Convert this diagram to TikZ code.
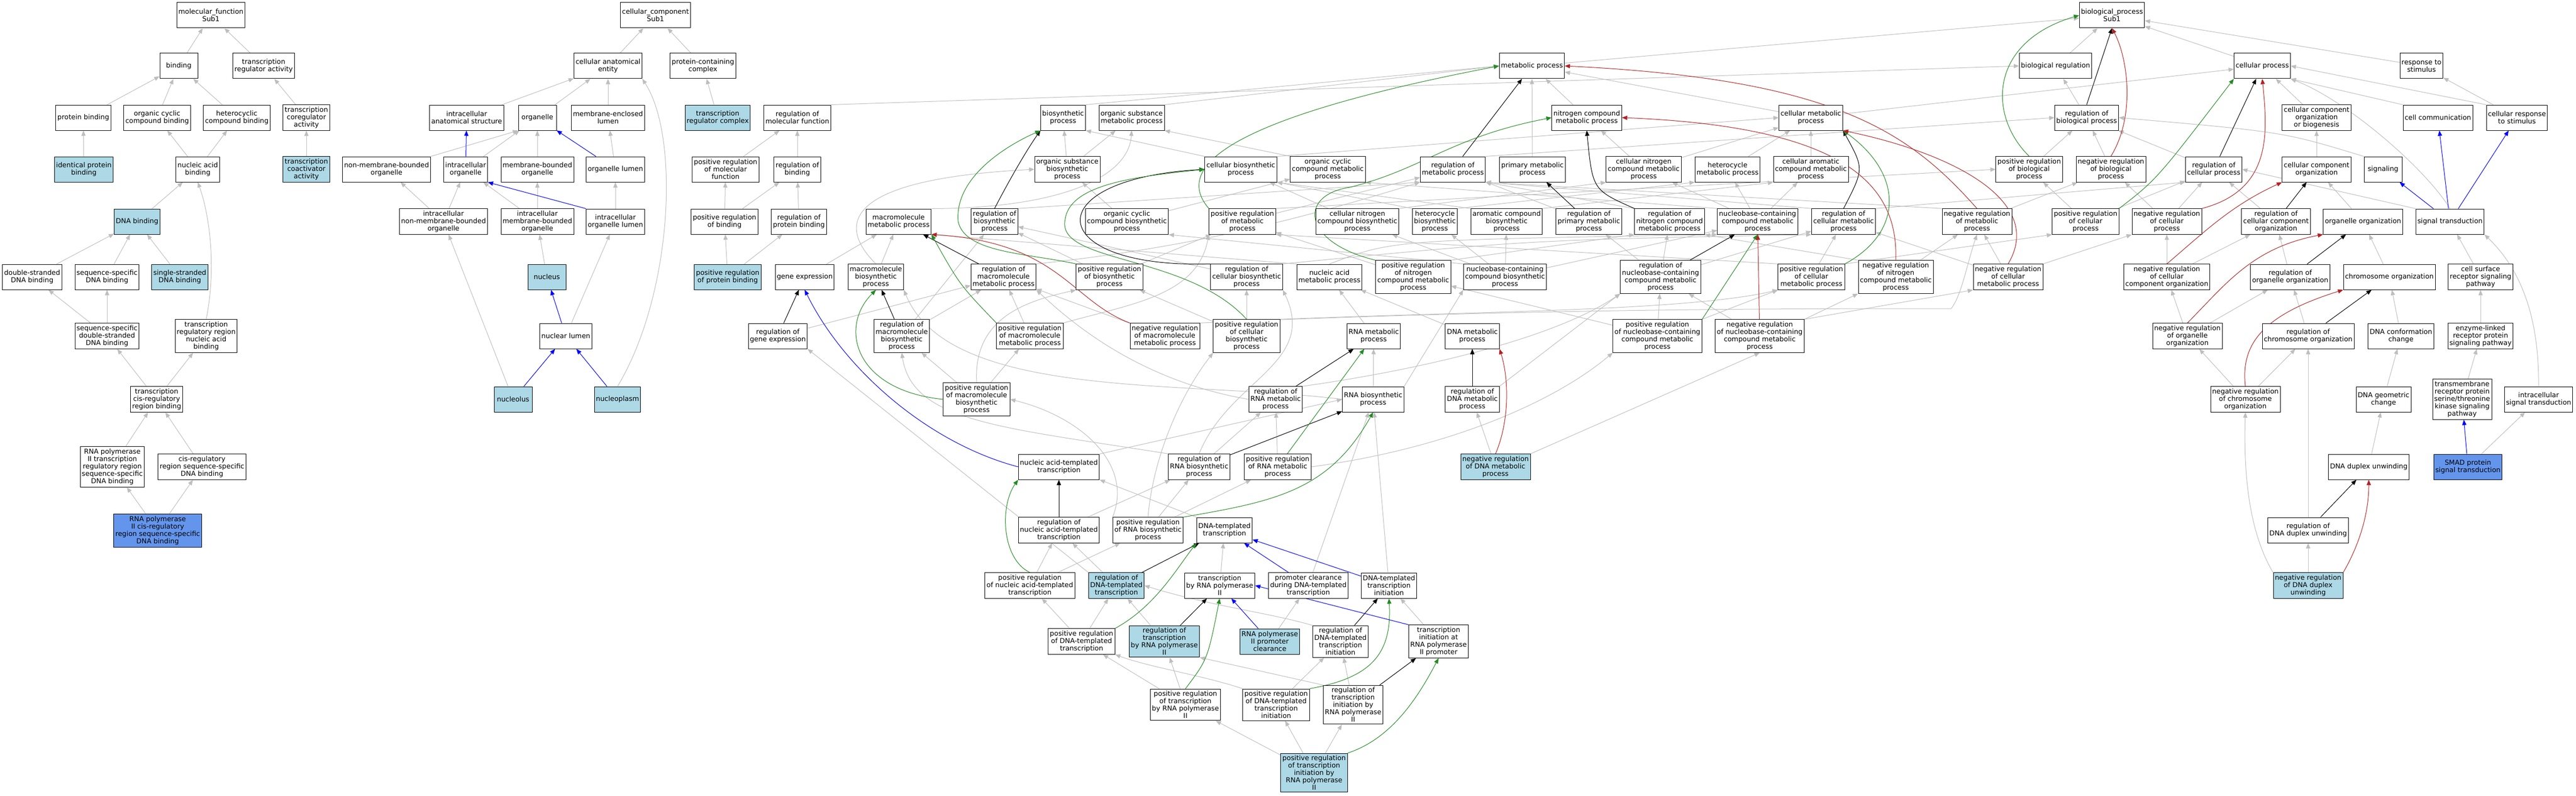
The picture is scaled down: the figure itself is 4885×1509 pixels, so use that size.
\documentclass[tikz,border=0pt]{standalone}
\usepackage{fontspec}
\setmainfont{DejaVu Sans}
\usetikzlibrary{arrows.meta,backgrounds}
\definecolor{isagray}{RGB}{190,190,190}
\definecolor{posgreen}{RGB}{34,139,34}
\definecolor{negred}{RGB}{178,34,34}
\definecolor{termblue}{RGB}{173,216,230}
\definecolor{seedblue}{RGB}{100,149,237}
\begin{document}
\begin{tikzpicture}[x=1pt,y=-1pt,
  term/.style={draw=black, line width=1pt, fill=white, rectangle, minimum width=72pt, minimum height=48pt, inner xsep=3pt, inner ysep=4pt, align=center, font=\fontsize{12.9pt}{14pt}\selectfont},
  lbterm/.style={term, fill=termblue},
  cfterm/.style={term, fill=seedblue},
  isa/.style={color=isagray, line width=1pt, -{Triangle[length=10pt,width=8pt]}},
  regarrow/.style={isa, color=black},
  posreg/.style={isa, color=posgreen},
  negreg/.style={isa, color=negred},
  partof/.style={isa, color=blue}]
\useasboundingbox (0,0) rectangle (4885,1509);

%molecular function
\node[term] (mf) at (400,29) {molecular\_function\\Sub1};
\node[term] (bind) at (339,125) {binding};
\node[term] (trra) at (500,125) {transcription\\regulator activity};
\node[term] (pbind) at (158,223) {protein binding};
\node[term] (occb) at (298,223) {organic cyclic\\compound binding};
\node[term] (hccb) at (449,223) {heterocyclic\\compound binding};
\node[term] (trcoreg) at (581,223) {transcription\\coregulator\\activity};
\node[lbterm] (ipb) at (159,321) {identical protein\\binding};
\node[term] (nab) at (375,321) {nucleic acid\\binding};
\node[lbterm] (trcoact) at (581,321) {transcription\\coactivator\\activity};
\node[lbterm] (dnab) at (260,420) {DNA binding};
\node[term] (dsdna) at (61,525) {double-stranded\\DNA binding};
\node[term] (ssdna) at (203,525) {sequence-specific\\DNA binding};
\node[lbterm] (sgdna) at (341,525) {single-stranded\\DNA binding};
\node[term] (ssds) at (203,637) {sequence-specific\\double-stranded\\DNA binding};
\node[term] (trrnab) at (391,637) {transcription\\regulatory region\\nucleic acid\\binding};
\node[term] (tcrb) at (297,757) {transcription\\cis-regulatory\\region binding};
\node[term] (rp2tr) at (213,885) {RNA polymerase\\II transcription\\regulatory region\\sequence-specific\\DNA binding};
\node[term] (crss) at (383,885) {cis-regulatory\\region sequence-specific\\DNA binding};
\node[cfterm] (rp2cr) at (299,1006) {RNA polymerase\\II cis-regulatory\\region sequence-specific\\DNA binding};

%cellular component
\node[term] (cc) at (1243,29) {cellular\_component\\Sub1};
\node[term] (cae) at (1153,125) {cellular anatomical\\entity};
\node[term] (pcc) at (1333,125) {protein-containing\\complex};
\node[term] (ias) at (885,223) {intracellular\\anatomical structure};
\node[term] (org) at (1019,223) {organelle};
\node[term] (mel) at (1153,223) {membrane-enclosed\\lumen};
\node[lbterm] (trc) at (1361,223) {transcription\\regulator complex};
\node[term] (nmbo) at (733,321) {non-membrane-bounded\\organelle};
\node[term] (io) at (883,321) {intracellular\\organelle};
\node[term] (mbo) at (1019,321) {membrane-bounded\\organelle};
\node[term] (ol) at (1167,321) {organelle lumen};
\node[term] (inmbo) at (841,420) {intracellular\\non-membrane-bounded\\organelle};
\node[term] (imbo) at (1019,420) {intracellular\\membrane-bounded\\organelle};
\node[term] (iol) at (1167,420) {intracellular\\organelle lumen};
\node[lbterm] (nucleus) at (1037,525) {nucleus};
\node[term] (nl) at (1073,637) {nuclear lumen};
\node[lbterm] (nucleolus) at (973,757) {nucleolus};
\node[lbterm] (nucleoplasm) at (1171,757) {nucleoplasm};

%regulation of molecular function
\node[term] (rmf) at (1512,223) {regulation of\\molecular function};
\node[term] (prmf) at (1376,321) {positive regulation\\of molecular\\function};
\node[term] (rb) at (1512,321) {regulation of\\binding};
\node[term] (prb) at (1374,420) {positive regulation\\of binding};
\node[term] (rpb) at (1515,420) {regulation of\\protein binding};
\node[lbterm] (prpb) at (1380,525) {positive regulation\\of protein binding};

%biological process, rows from top
\node[term] (bp) at (4005,29) {biological\_process\\Sub1};
\node[term] (mp) at (2905,125) {metabolic process};
\node[term] (breg) at (3898,125) {biological regulation};
\node[term] (cp) at (4290,125) {cellular process};
\node[term] (rts) at (4592,125) {response to\\stimulus};

\node[term] (bsp) at (2016,223) {biosynthetic\\process};
\node[term] (osmp) at (2146,223) {organic substance\\metabolic process};
\node[term] (ncmp) at (3009,223) {nitrogen compound\\metabolic process};
\node[term] (cmp) at (3434,223) {cellular metabolic\\process};
\node[term] (rbp) at (3957,223) {regulation of\\biological process};
\node[term] (ccob) at (4393,223) {cellular component\\organization\\or biogenesis};
\node[term] (ccom) at (4623,223) {cell communication};
\node[term] (crs) at (4773,223) {cellular response\\to stimulus};

\node[term] (osbp) at (2024,321) {organic substance\\biosynthetic\\process};
\node[term] (cbp) at (2353,321) {cellular biosynthetic\\process};
\node[term] (occmp) at (2518,321) {organic cyclic\\compound metabolic\\process};
\node[term] (rmp) at (2755,321) {regulation of\\metabolic process};
\node[term] (pmp) at (2906,321) {primary metabolic\\process};
\node[term] (cncmp) at (3117,321) {cellular nitrogen\\compound metabolic\\process};
\node[term] (hmp) at (3276,321) {heterocycle\\metabolic process};
\node[term] (camp) at (3434,321) {cellular aromatic\\compound metabolic\\process};
\node[term] (prbp) at (3848,321) {positive regulation\\of biological\\process};
\node[term] (nrbp) at (4003,321) {negative regulation\\of biological\\process};
\node[term] (rcp) at (4198,321) {regulation of\\cellular process};
\node[term] (cco) at (4393,321) {cellular component\\organization};
\node[term] (sig) at (4519,321) {signaling};

\node[term] (mmp) at (1704,420) {macromolecule\\metabolic process};
\node[term] (rbsp) at (1886,420) {regulation of\\biosynthetic\\process};
\node[term] (occbp) at (2137,420) {organic cyclic\\compound biosynthetic\\process};
\node[term] (prmp) at (2356,420) {positive regulation\\of metabolic\\process};
\node[term] (cncbp) at (2574,420) {cellular nitrogen\\compound biosynthetic\\process};
\node[term] (hbp) at (2721,420) {heterocycle\\biosynthetic\\process};
\node[term] (acbp) at (2857,420) {aromatic compound\\biosynthetic\\process};
\node[term] (rpmp) at (3013,420) {regulation of\\primary metabolic\\process};
\node[term] (rncmp) at (3166,420) {regulation of\\nitrogen compound\\metabolic process};
\node[term] (nbcmp) at (3333,420) {nucleobase-containing\\compound metabolic\\process};
\node[term] (rcmp) at (3496,420) {regulation of\\cellular metabolic\\process};
\node[term] (nrmp) at (3749,420) {negative regulation\\of metabolic\\process};
\node[term] (prcp) at (3955,420) {positive regulation\\of cellular\\process};
\node[term] (nrcp) at (4109,420) {negative regulation\\of cellular\\process};
\node[term] (rcco) at (4316,420) {regulation of\\cellular component\\organization};
\node[term] (oo) at (4481,420) {organelle organization};
\node[term] (st) at (4646,420) {signal transduction};

\node[term] (ge) at (1526,525) {gene expression};
\node[term] (mbp) at (1661,525) {macromolecule\\biosynthetic\\process};
\node[term] (rmmp) at (1903,525) {regulation of\\macromolecule\\metabolic process};
\node[term] (prbsp) at (2104,525) {positive regulation\\of biosynthetic\\process};
\node[term] (rcbp) at (2364,525) {regulation of\\cellular biosynthetic\\process};
\node[term] (namp) at (2521,525) {nucleic acid\\metabolic process};
\node[term] (prncmp) at (2680,525) {positive regulation\\of nitrogen\\compound metabolic\\process};
\node[term] (nbcbp) at (2854,525) {nucleobase-containing\\compound biosynthetic\\process};
\node[term] (rnbcmp) at (3149,525) {regulation of\\nucleobase-containing\\compound metabolic\\process};
\node[term] (prcmp) at (3435,525) {positive regulation\\of cellular\\metabolic process};
\node[term] (nrncmp) at (3595,525) {negative regulation\\of nitrogen\\compound metabolic\\process};
\node[term] (nrcmp) at (3808,525) {negative regulation\\of cellular\\metabolic process};
\node[term] (nrcco) at (4109,525) {negative regulation\\of cellular\\component organization};
\node[term] (roo) at (4343,525) {regulation of\\organelle organization};
\node[term] (chro) at (4531,525) {chromosome organization};
\node[term] (csrsp) at (4704,525) {cell surface\\receptor signaling\\pathway};

\node[term] (rge) at (1475,637) {regulation of\\gene expression};
\node[term] (rmbp) at (1710,637) {regulation of\\macromolecule\\biosynthetic\\process};
\node[term] (prmmp) at (1953,637) {positive regulation\\of macromolecule\\metabolic process};
\node[term] (nrmmp) at (2209,637) {negative regulation\\of macromolecule\\metabolic process};
\node[term] (prcbp) at (2364,637) {positive regulation\\of cellular\\biosynthetic\\process};
\node[term] (rnamp) at (2605,637) {RNA metabolic\\process};
\node[term] (dnamp) at (2792,637) {DNA metabolic\\process};
\node[term] (prnbcmp) at (3143,637) {positive regulation\\of nucleobase-containing\\compound metabolic\\process};
\node[term] (nrnbcmp) at (3337,637) {negative regulation\\of nucleobase-containing\\compound metabolic\\process};
\node[term] (nroo) at (4148,637) {negative regulation\\of organelle\\organization};
\node[term] (rchro) at (4377,637) {regulation of\\chromosome organization};
\node[term] (dnacc) at (4553,637) {DNA conformation\\change};
\node[term] (elrpsp) at (4704,637) {enzyme-linked\\receptor protein\\signaling pathway};

\node[term] (prmbp) at (1852,757) {positive regulation\\of macromolecule\\biosynthetic\\process};
\node[term] (rrnamp) at (2419,757) {regulation of\\RNA metabolic\\process};
\node[term] (rnabp) at (2604,757) {RNA biosynthetic\\process};
\node[term] (rdnamp) at (2792,757) {regulation of\\DNA metabolic\\process};
\node[term] (nrchro) at (4258,757) {negative regulation\\of chromosome\\organization};
\node[term] (dnagc) at (4520,757) {DNA geometric\\change};
\node[term] (tmrp) at (4669,757) {transmembrane\\receptor protein\\serine/threonine\\kinase signaling\\pathway};
\node[term] (ist) at (4814,757) {intracellular\\signal transduction};

\node[term] (natt) at (2008,885) {nucleic acid-templated\\transcription};
\node[term] (rrnabp) at (2274,885) {regulation of\\RNA biosynthetic\\process};
\node[term] (prrnamp) at (2423,885) {positive regulation\\of RNA metabolic\\process};
\node[lbterm] (nrdnamp) at (2836,885) {negative regulation\\of DNA metabolic\\process};
\node[term] (dnadu) at (4492,885) {DNA duplex unwinding};
\node[cfterm] (smad) at (4680,885) {SMAD protein\\signal transduction};

\node[term] (rnatt) at (2008,1005) {regulation of\\nucleic acid-templated\\transcription};
\node[term] (prrnabp) at (2177,1005) {positive regulation\\of RNA biosynthetic\\process};
\node[term] (dnatt) at (2322,1005) {DNA-templated\\transcription};
\node[term] (rdnadu) at (4377,1005) {regulation of\\DNA duplex unwinding};

\node[term] (prnatt) at (1953,1110) {positive regulation\\of nucleic acid-templated\\transcription};
\node[lbterm] (rdnatt) at (2117,1110) {regulation of\\DNA-templated\\transcription};
\node[term] (trp2) at (2313,1110) {transcription\\by RNA polymerase\\II};
\node[term] (pcdt) at (2481,1110) {promoter clearance\\during DNA-templated\\transcription};
\node[term] (dnati) at (2634,1110) {DNA-templated\\transcription\\initiation};
\node[lbterm] (nrdnadu) at (4377,1110) {negative regulation\\of DNA duplex\\unwinding};

\node[term] (prdnatt) at (2051,1216) {positive regulation\\of DNA-templated\\transcription};
\node[lbterm] (rtrp2) at (2208,1216) {regulation of\\transcription\\by RNA polymerase\\II};
\node[lbterm] (rp2pc) at (2408,1216) {RNA polymerase\\II promoter\\clearance};
\node[term] (rdnati) at (2542,1216) {regulation of\\DNA-templated\\transcription\\initiation};
\node[term] (tiap2) at (2728,1216) {transcription\\initiation at\\RNA polymerase\\II promoter};

\node[term] (prtrp2) at (2248,1336) {positive regulation\\of transcription\\by RNA polymerase\\II};
\node[term] (prdnati) at (2420,1336) {positive regulation\\of DNA-templated\\transcription\\initiation};
\node[term] (rtip2) at (2566,1336) {regulation of\\transcription\\initiation by\\RNA polymerase\\II};
\node[lbterm] (prtip2) at (2492,1465) {positive regulation\\of transcription\\initiation by\\RNA polymerase\\II};

\begin{scope}[on background layer]
%is_a, molecular function
\path[isa] (bind) edge (mf);
\path[isa] (trra) edge (mf);
\path[isa] (pbind) edge (bind);
\path[isa] (occb) edge (bind);
\path[isa] (hccb) edge (bind);
\path[isa] (trcoreg) edge (trra);
\path[isa] (ipb) edge (pbind);
\path[isa] (nab) edge (occb) edge (hccb);
\path[isa] (trcoact) edge (trcoreg);
\path[isa] (dnab) edge (nab);
\path[isa] (dsdna) edge (dnab);
\path[isa] (ssdna) edge (dnab);
\path[isa] (sgdna) edge (dnab);
\path[isa] (ssds) edge (dsdna) edge (ssdna);
\draw[isa] (trrnab.north) .. controls (412,500) and (395,400) .. (nab.south);
\path[isa] (tcrb) edge (ssds) edge (trrnab);
\path[isa] (rp2tr) edge (tcrb);
\path[isa] (crss) edge (tcrb);
\path[isa] (rp2cr) edge (rp2tr) edge (crss);

%is_a, cellular component
\path[isa] (cae) edge (cc);
\path[isa] (pcc) edge (cc);
\path[isa] (ias) edge (cae);
\path[isa] (org) edge (cae);
\path[isa] (mel) edge (cae);
\path[isa] (trc) edge (pcc);
\path[isa] (nmbo.north east) edge (org.south west);
\path[isa] (io) edge (org);
\path[isa] (mbo) edge (org);
\path[isa] (ol) edge (mel);
\path[isa] (inmbo) edge (nmbo) edge (io);
\path[isa] (imbo) edge (io) edge (mbo);
\path[isa] (iol) edge (ol);
\path[isa] (nucleus) edge (imbo);
\path[isa] (nl) edge (iol);
\path[isa] (nucleolus) edge (inmbo);
\draw[isa] (nucleoplasm.north) .. controls (1275,560) and (1290,260) .. (cae.south east);

%is_a, regulation of molecular function
\path[isa] (rmf.north east) edge (breg.west);
\path[isa] (prmf) edge (rmf);
\path[isa] (rb) edge (rmf);
\path[isa] (prb) edge (prmf) edge (rb);
\path[isa] (rpb) edge (rb);
\path[isa] (prpb) edge (prb) edge (rpb);

%is_a, biological process upper part
\path[isa] (mp) edge (bp);
\path[isa] (breg) edge (bp);
\path[isa] (cp) edge (bp);
\path[isa] (rts) edge (bp);
\path[isa] (rbp) edge (breg);
\path[isa] (ccob) edge (cp);
\path[isa] (ccom.north west) edge (cp.south east);
\path[isa] (crs.north west) edge (cp.east);
\path[isa] (crs) edge (rts);
\path[isa] (cco) edge (ccob);
\draw[isa] (sig.north west) .. controls (4330,250) .. (rbp.east);
\path[isa] (rcp) edge (rbp);
\path[isa] (nrbp) edge (rbp);
\path[isa] (prbp) edge (rbp);
\path[isa] (prcp) edge (rcp) edge (prbp);
\path[isa] (nrcp) edge (rcp) edge (nrbp);
\path[isa] (rcco) edge (rcp);
\path[isa] (oo) edge (cco);
\draw[isa] (st.north) .. controls (4600,320) and (4450,190) .. (cp.south east);
\path[isa] (st.north west) edge (rcp.east);
\path[isa] (nrcco) edge (rcco) edge (nrcp);
\path[isa] (roo) edge (rcco);
\path[isa] (chro) edge (oo);
\path[isa] (csrsp) edge (st);
\path[isa] (nroo) edge (roo) edge (nrcco);
\path[isa] (rchro) edge (roo);
\path[isa] (dnacc) edge (chro);
\path[isa] (elrpsp) edge (csrsp);
\path[isa] (nrchro) edge (rchro) edge (nroo);
\path[isa] (dnagc) edge (dnacc);
\path[isa] (tmrp) edge (elrpsp);
\draw[isa] (ist.north) .. controls (4815,620) and (4790,520) .. (st.south east);
\path[isa] (dnadu) edge (dnagc);
\path[isa] (smad) edge (ist);
\path[isa] (rdnadu) edge (rchro);
\path[isa] (nrdnadu) edge (rdnadu);
\draw[isa] (nrdnadu.north west) .. controls (4260,1000) and (4255,880) .. (nrchro.south);

%is_a, metabolism
\path[isa] (bsp.north east) edge (mp.west);
\path[isa] (osmp.north east) edge (mp.west);
\path[isa] (ncmp) edge (mp);
\path[isa] (pmp) edge (mp);
\path[isa] (cmp) edge (mp);
\path[isa] (cmp) edge (cp);
\path[isa] (rmp.north east) edge (rbp.west);
\path[isa] (prmp) edge (rmp);
\path[isa] (prmp.north east) edge (prbp.west);
\path[isa] (nrmp.north west) edge (rmp.south east);
\path[isa] (nrmp) edge (nrbp);
\path[isa] (osbp) edge (bsp) edge (osmp);
\path[isa] (cbp.north west) edge (bsp.south east);
\path[isa] (cbp.north east) edge (cmp.west);
\path[isa] (occmp.north west) edge (osmp.south east);
\path[isa] (rbsp.north east) edge (rmp.south west);
\path[isa] (prbsp) edge (rbsp) edge (prmp);
\path[isa] (mbp) edge (mmp);
\draw[isa] (mbp.north) .. controls (1590,430) and (1590,340) .. (osbp.west);
\path[isa] (ge) edge (mmp);
\draw[isa] (mmp.north east) .. controls (2000,395) and (2140,340) .. (osmp.south);
\path[isa] (rge) edge (rmmp);
\draw[isa] (rmmp.north east) .. controls (2250,470) and (2450,420) .. (rmp.south west);
\path[isa] (rmbp) edge (rmmp) edge (rbsp);
\path[isa] (prmmp) edge (rmmp);
\draw[isa] (prmmp.north east) .. controls (2150,575) and (2270,560) .. (prmp.south west);
\path[isa] (nrmmp) edge (rmmp);
\draw[isa] (nrmmp.north east) .. controls (2900,585) and (3400,585) .. (3700,585) .. controls (3720,560) and (3730,500) .. (nrmp.south);
\path[isa] (prmbp) edge (rmbp) edge (prmmp);
\draw[isa] (prmbp.north) .. controls (1845,600) and (1950,570) .. (prbsp.south west);
\path[isa] (rcbp) edge (rbsp);
\draw[isa] (rcbp.north east) .. controls (2900,455) .. (rcmp.south west);
\path[isa] (prcbp) edge (rcbp) edge (prbsp);
\draw[isa] (prcbp.north east) .. controls (2800,590) and (3200,590) .. (prcmp.south west);
\path[isa] (occbp) edge (osbp) edge (occmp);
\path[isa] (cncbp) edge (cbp);
\path[isa] (cncbp.north east) edge (cncmp.south west);
\path[isa] (hbp.north east) edge (hmp.south west);
\path[isa] (hbp.north west) edge (cbp.south east);
\path[isa] (acbp.north east) edge (camp.south west);
\path[isa] (acbp.north west) edge (cbp.south east);
\path[isa] (rpmp) edge (rmp);
\path[isa] (rncmp.north west) edge (rmp.south east);
\path[isa] (nbcmp) edge (cncmp) edge (hmp) edge (camp);
\path[isa] (nbcmp.north west) edge (occmp.south east);
\path[isa] (cncmp) edge (ncmp) edge (cmp);
\path[isa] (hmp) edge (cmp);
\path[isa] (camp) edge (cmp);
\path[isa] (rcmp.north west) edge (rmp.south east);
\path[isa] (rcmp.north east) edge (rcp.south west);
\path[isa] (prcmp) edge (rcmp);
\path[isa] (prcmp.north west) edge (prmp.south east);
\path[isa] (prcmp.north east) edge (prcp.south west);
\path[isa] (nrcmp) edge (rcmp) edge (nrmp);
\path[isa] (nrcmp.north east) edge (nrcp.south west);
\path[isa] (prncmp.north east) edge (rncmp.south west);
\path[isa] (prncmp) edge (prmp);
\path[isa] (nrncmp.north west) edge (rncmp.south east);
\path[isa] (nrncmp) edge (nrmp);
\path[isa] (nbcbp) edge (acbp) edge (hbp) edge (cncbp) edge (nbcmp);
\path[isa] (nbcbp.north west) edge (occbp.south east);
\draw[isa] (namp.north) .. controls (2640,455) .. (nbcmp.south west);
\path[isa] (namp.north west) edge (mmp.south east);
\path[isa] (rnbcmp) edge (rncmp) edge (rcmp) edge (rpmp);
\path[isa] (prnbcmp) edge (rnbcmp) edge (prncmp);
\path[isa] (prnbcmp.north east) edge (prcmp.south west);
\path[isa] (nrnbcmp) edge (rnbcmp);
\path[isa] (nrnbcmp.north east) edge (nrncmp.south west);
\path[isa] (nrnbcmp.north east) edge (nrcmp.south west);
\path[isa] (rnamp) edge (namp);
\path[isa] (dnamp) edge (namp);
\draw[isa] (rrnamp.north east) .. controls (2700,700) and (2950,640) .. (rnbcmp.south west);
\draw[isa] (rrnamp.west) .. controls (2150,720) and (2020,600) .. (rmmp.south east);
\path[isa] (rnabp) edge (rnamp);
\path[isa] (rnabp.north east) edge (nbcbp.south west);
\draw[isa] (rnabp.west) .. controls (2250,720) and (1800,760) .. (mbp.south east);
\path[isa] (rdnamp.north east) edge (rnbcmp.south west);
\path[isa] (nrdnamp) edge (rdnamp);
\draw[isa] (prrnamp.east) .. controls (2750,850) and (2950,760) .. (prnbcmp.south west);
\path[isa] (nrdnamp.north east) edge (nrnbcmp.south);

%is_a, transcription
\path[isa] (natt.north east) edge (rnabp.west);
\path[isa] (rnatt) edge (rrnabp);
\path[isa] (prnatt) edge (rnatt) edge (prrnabp);
\path[isa] (rrnabp) edge (rrnamp);
\draw[isa] (rrnabp.north west) .. controls (1900,810) and (1730,800) .. (rmbp.south);
\draw[isa] (rrnabp.north) .. controls (2330,720) and (2500,690) .. (rcbp.south east);
\path[isa] (prrnamp) edge (rrnamp);
\path[isa] (prrnabp) edge (rrnabp) edge (prrnamp);
\draw[isa] (prrnabp.north west) .. controls (2150,880) and (2050,790) .. (prmbp.east);
\draw[isa] (prrnabp.north) .. controls (2185,880) and (2230,760) .. (prcbp.south west);
\path[isa] (dnatt.north west) edge (natt.south east);
\path[isa] (rdnatt) edge (rnatt);
\path[isa] (rdnatt.north west) edge (rge.south east);
\path[isa] (trp2) edge (dnatt);
\path[isa] (pcdt) edge (rnabp);
\path[isa] (dnati) edge (rnabp);
\path[isa] (prdnatt) edge (rdnatt) edge (prnatt);
\path[isa] (rtrp2) edge (rdnatt);
\path[isa] (rp2pc) edge (pcdt);
\draw[isa] (rdnati.north west) .. controls (2400,1160) and (2300,1150) .. (rdnatt.east);
\path[isa] (tiap2) edge (dnati);
\path[isa] (prtrp2) edge (rtrp2) edge (prdnatt);
\path[isa] (prdnati) edge (rdnati);
\draw[isa] (prdnati.north west) .. controls (2280,1280) and (2180,1265) .. (prdnatt.south east);
\path[isa] (rtip2) edge (rdnati);
\path[isa] (rtip2.north west) edge (rtrp2.south east);
\path[isa] (prtip2) edge (rtip2) edge (prdnati) edge (prtrp2);

%regulates
\draw[regarrow] (rmp) -- (mp);
\draw[regarrow] (rbsp.north) .. controls (1920,330) and (1950,280) .. (bsp.south west);
\draw[regarrow] (rmmp) -- (mmp);
\draw[regarrow] (rmbp) -- (mbp);
\draw[regarrow] (rge) -- (ge);
\draw[regarrow] (rcbp.north west) .. controls (1980,510) and (1960,340) .. (cbp.west);
\draw[regarrow] (rpmp) -- (pmp);
\draw[regarrow] (rncmp.north west) .. controls (3020,360) .. (ncmp.south);
\draw[regarrow] (rcmp.north) .. controls (3535,320) .. (cmp.south east);
\draw[regarrow] (rnbcmp) -- (nbcmp);
\draw[regarrow] (rrnamp) -- (rnamp);
\draw[regarrow] (rrnabp) -- (rnabp);
\draw[regarrow] (rdnamp) -- (dnamp);
\draw[regarrow] (rnatt) -- (natt);
\draw[regarrow] (rdnatt) -- (dnatt);
\draw[regarrow] (rtrp2) -- (trp2);
\draw[regarrow] (rdnati) -- (dnati);
\draw[regarrow] (rtip2) -- (tiap2);
\draw[regarrow] (rbp.north) -- (bp.south);
\draw[regarrow] (rcp) -- (cp);
\draw[regarrow] (rcco) -- (cco);
\draw[regarrow] (roo) -- (oo);
\draw[regarrow] (rchro) -- (chro);
\draw[regarrow] (rdnadu) -- (dnadu);

%positively regulates
\draw[posreg] (prmp.north west) .. controls (2210,300) and (2400,210) .. (mp.west);
\draw[posreg] (prbsp.north west) .. controls (1950,480) and (1830,480) .. (1817,420) .. controls (1810,340) and (1900,280) .. (bsp.south west);
\draw[posreg] (prmmp.north west) .. controls (1820,540) .. (mmp.south east);
\draw[posreg] (prmbp.west) .. controls (1620,740) and (1590,620) .. (mbp.south);
\draw[posreg] (prcbp.north) .. controls (2250,480) and (2000,500) .. (2020,415) .. controls (2030,350) and (2150,335) .. (cbp.west);
\draw[posreg] (prncmp.north west) .. controls (2470,460) and (2460,370) .. (2560,355) .. controls (2700,320) and (2750,260) .. (ncmp.west);
\draw[posreg] (prcmp.north east) .. controls (3610,440) and (3610,330) .. (cmp.south east);
\draw[posreg] (prnbcmp.north east) -- (nbcmp.south);
\draw[posreg] (prbp.north) .. controls (3770,220) and (3770,80) .. (bp.west);
\draw[posreg] (prcp.north east) .. controls (4090,340) .. (cp.south west);
\draw[posreg] (prnatt.north) .. controls (1900,1060) and (1895,960) .. (natt.south west);
\draw[posreg] (prrnamp) -- (rnamp);
\draw[posreg] (prrnabp.north east) .. controls (2420,950) and (2520,930) .. (rnabp.south);
\draw[posreg] (prdnatt.north east) .. controls (2190,1150) and (2230,1080) .. (dnatt.south west);
\draw[posreg] (prtrp2.north) .. controls (2290,1250) .. (trp2.south);
\draw[posreg] (prdnati.north east) .. controls (2600,1285) and (2640,1240) .. (dnati.south);
\draw[posreg] (prtip2.north east) .. controls (2640,1400) and (2690,1320) .. (tiap2.south);

%negatively regulates
\draw[negreg] (nrmp.north) .. controls (3620,250) and (3480,150) .. (mp.east);
\draw[negreg] (nrmmp.north west) .. controls (2030,570) and (2010,460) .. (mmp.south east);
\draw[negreg] (nrncmp.north) .. controls (3600,350) and (3500,240) .. (ncmp.east);
\draw[negreg] (nrcmp.north) .. controls (3880,380) and (3700,290) .. (cmp.south east);
\draw[negreg] (nrnbcmp) -- (nbcmp);
\draw[negreg] (nrdnamp.north) .. controls (2862,800) and (2862,720) .. (dnamp.south east);
\draw[negreg] (nrbp.north) .. controls (4050,220) and (4035,110) .. (bp.south);
\draw[negreg] (nrcp.north east) .. controls (4310,360) and (4300,250) .. (cp.south);
\draw[negreg] (nrcco.north) .. controls (4180,440) and (4230,390) .. (cco.south west);
\draw[negreg] (nroo.north) .. controls (4220,540) and (4270,470) .. (oo.south west);
\draw[negreg] (nrchro.north) .. controls (4250,660) and (4280,600) .. (chro.south west);
\draw[negreg] (nrdnadu.north east) .. controls (4470,1040) and (4492,980) .. (dnadu.south);

%part of
\draw[partof] (io) -- (ias);
\draw[partof] (ol) -- (org);
\draw[partof] (iol.north west) -- (io.south east);
\draw[partof] (nl) -- (nucleus);
\draw[partof] (nucleolus) -- (nl);
\draw[partof] (nucleoplasm) -- (nl);
\draw[partof] (natt.west) .. controls (1760,840) and (1600,700) .. (ge.south);
\draw[partof] (pcdt) -- (dnatt);
\draw[partof] (dnati) -- (dnatt);
\draw[partof] (rp2pc) -- (trp2);
\draw[partof] (tiap2.north west) -- (trp2.east);
\draw[partof] (st) -- (sig);
\draw[partof] (st) -- (ccom);
\draw[partof] (st) -- (crs);
\draw[partof] (smad) -- (tmrp);
\end{scope}
\end{tikzpicture}
\end{document}
